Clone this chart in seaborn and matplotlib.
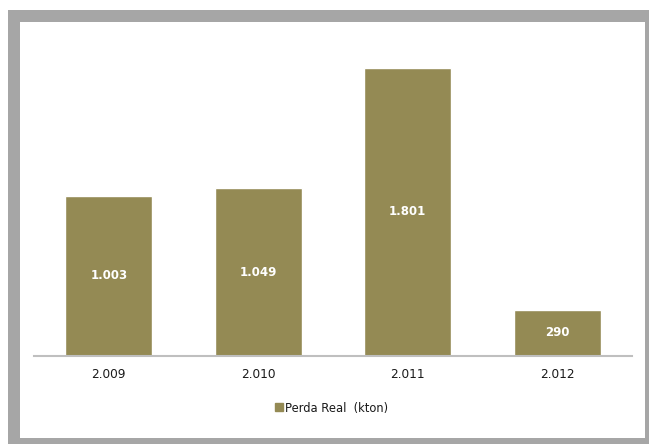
import matplotlib
matplotlib.use("Agg")
import matplotlib.pyplot as plt
import seaborn as sns
import pandas as pd
from matplotlib.patches import Rectangle
from matplotlib.lines import Line2D

years = ["2.009", "2.010", "2.011", "2.012"]
values = [1003, 1049, 1801, 290]
value_labels = ["1.003", "1.049", "1.801", "290"]
series_name = "Perda Real  (kton)"

sns.set_theme(style="white")
plt.rcParams['font.family'] = ['DejaVu Sans']

W, H = 649, 444
fig = plt.figure(figsize=(W / 100, H / 100), dpi=100)
fig.patch.set_facecolor("white")

# gray frame
fig.patches.append(Rectangle((8 / W, 0), 1 - 8 / W, 1 - 10 / H, transform=fig.transFigure,
                             facecolor="#A6A6A6", edgecolor="none", zorder=-20))
fig.patches.append(Rectangle((20 / W, 6 / H), (645 - 20) / W, (438 - 22) / H, transform=fig.transFigure,
                             facecolor="white", edgecolor="none", zorder=-10))

ax = fig.add_axes([34 / W, (H - 356) / H, (632 - 34) / W, (356 - 36) / H])
ax.set_facecolor("none")
ax.set_zorder(5)

df = pd.DataFrame({"year": years, "value": values})
color = "#948A54"
sns.barplot(data=df, x="year", y="value", color=color, width=0.58, saturation=1, ax=ax)

ax.set_xlim(-0.5, 3.5)
ax.set_ylim(0, 2000)
ax.set_xlabel("")
ax.set_ylabel("")
ax.set_yticks([])
for s in ["top", "right", "left"]:
    ax.spines[s].set_visible(False)
ax.spines["bottom"].set_color("#BFBFBF")
ax.spines["bottom"].set_linewidth(1.5)
ax.tick_params(axis="x", length=0, pad=8.5, labelsize=8.7, labelcolor="#1a1a1a")

for i, (v, lab) in enumerate(zip(values, value_labels)):
    ax.text(i, v / 2, lab, ha="center", va="center", color="white",
            fontsize=8.5, fontweight="bold")

handle = Line2D([], [], marker="s", linestyle="none", markersize=5.5,
                markerfacecolor=color, markeredgecolor=color)
fig.legend([handle], [series_name], loc="center", bbox_to_anchor=(331 / W, 1 - 408 / H),
           frameon=False, fontsize=8.3, handletextpad=0.0, handlelength=1.0,
           labelcolor="#1a1a1a")

fig.savefig("out.png", dpi=100)
